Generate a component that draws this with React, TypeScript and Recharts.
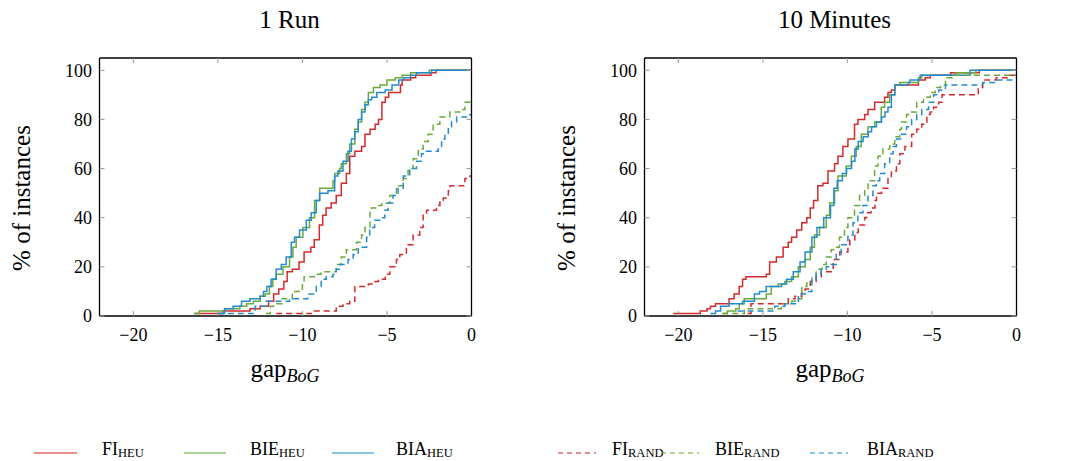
import { LineChart, Line, XAxis, YAxis } from "recharts";

// x ticks / y ticks shared by both panels
const xTicks = [-20, -15, -10, -5, 0];
const yTicks = [0, 20, 40, 60, 80, 100];

// ---- 1 Run ----  [gap, % of instances]
const runFiHeu = [[-16.4,1],[-14.7,2],[-13.1,3],[-12.5,4],[-12.0,6],[-11.7,9],[-11.4,11],[-11.1,14],[-10.9,18],[-10.6,19],[-10.2,22],[-9.9,26],[-9.5,28],[-9.3,31],[-9.0,37],[-8.8,41],[-8.6,44],[-8.3,46],[-8.0,49],[-7.7,54],[-7.4,58],[-7.2,65],[-6.9,67],[-6.5,69],[-6.3,74],[-6.0,76],[-5.7,78],[-5.5,80],[-5.3,87],[-5.1,89],[-4.9,91],[-4.2,94],[-4.1,96],[-3.6,97],[-3.3,98],[-2.4,99],[-2.1,100],[0,100]];
const runBieHeu = [[-16.4,1],[-16.1,2],[-14.6,3],[-13.7,4],[-13.3,5],[-12.9,6],[-12.5,8],[-12.2,9],[-11.95,12],[-11.75,15],[-11.55,17],[-11.15,20],[-10.76,24],[-10.56,28],[-10.37,32],[-9.97,36],[-9.58,40],[-9.28,47],[-8.98,52],[-8.19,55],[-8.09,58],[-7.8,60],[-7.7,62],[-7.4,66],[-7.2,70],[-6.9,76],[-6.7,79],[-6.5,84],[-6.3,87],[-6.1,91],[-5.8,93],[-5.4,94],[-5.0,96],[-4.5,97],[-4.1,98],[-3.6,99],[-2.5,100],[0,100]];
const runBiaHeu = [[-15.0,1],[-14.6,3],[-14.1,4],[-13.6,6],[-13.1,7],[-12.5,8],[-12.3,10],[-12.1,12],[-11.85,15],[-11.55,19],[-11.25,21],[-10.96,24],[-10.66,30],[-10.47,32],[-10.17,35],[-9.77,39],[-9.48,42],[-9.18,47],[-8.98,50],[-8.49,51],[-8.09,57],[-7.9,59],[-7.6,63],[-7.3,67],[-7.1,72],[-6.9,75],[-6.7,80],[-6.5,83],[-6.3,86],[-6.1,88],[-5.9,89],[-5.6,91],[-5.1,92],[-4.7,94],[-4.3,96],[-4.0,97],[-3.6,98],[-3.25,99],[-2.36,100],[0,100]];
const runFiRand = [[-11.55,1],[-9.4,2],[-8.0,4],[-7.6,5],[-7.2,6],[-6.9,12],[-6.1,13],[-5.7,14],[-5.5,15],[-5.1,17],[-4.83,20],[-4.44,23],[-4.24,25],[-3.85,29],[-3.45,33],[-3.06,36],[-2.86,41],[-2.66,43],[-2.07,45],[-1.87,47],[-1.67,48],[-1.37,51],[-1.27,53],[-0.39,56],[-0.09,57],[0,57]];
const runBieRand = [[-12.15,1],[-11.9,4],[-11.7,5],[-11.2,7],[-10.6,10],[-10.2,11],[-10.0,14],[-9.9,16],[-9.3,17],[-8.9,18],[-8.0,21],[-7.7,24],[-7.4,27],[-6.8,30],[-6.5,33],[-6.3,36],[-6.0,44],[-5.6,45],[-5.3,46],[-4.83,49],[-4.44,53],[-4.04,56],[-3.75,60],[-3.45,64],[-3.15,68],[-2.86,71],[-2.56,74],[-2.27,78],[-1.87,81],[-1.28,83],[-0.6,84],[-0.39,87],[-0.09,88],[0,88]];
const runBiaRand = [[-15.0,1],[-12.8,4],[-12.15,6],[-10.76,7],[-9.68,9],[-9.18,12],[-8.89,15],[-8.59,16],[-8.19,17],[-8.0,19],[-7.8,21],[-7.3,23],[-7.0,25],[-6.7,28],[-6.2,32],[-6.02,36],[-5.73,39],[-5.33,40],[-5.13,43],[-4.93,46],[-4.64,49],[-4.34,52],[-4.04,57],[-3.65,60],[-3.25,63],[-2.96,66],[-2.76,67],[-1.97,68],[-1.77,72],[-1.57,74],[-1.37,77],[-1.18,79],[-0.88,81],[-0.09,82],[0,82]];

// ---- 10 Minutes ----
const minFiHeu = [[-20.3,1],[-18.7,2],[-18.3,3],[-18.1,4],[-17.8,5],[-17.0,7],[-16.7,9],[-16.4,12],[-16.2,15],[-16.0,16],[-14.8,17],[-14.6,22],[-14.2,24],[-13.8,28],[-13.5,30],[-13.3,32],[-13.0,35],[-12.7,38],[-12.4,40],[-12.2,44],[-12.0,47],[-11.75,53],[-11.45,54],[-11.15,59],[-10.76,62],[-10.56,65],[-10.27,69],[-9.97,72],[-9.58,78],[-9.38,80],[-8.98,82],[-8.78,84],[-8.39,87],[-7.8,89],[-7.6,91],[-7.4,92],[-7.2,94],[-5.8,96],[-5.4,97],[-5.1,98],[-3.9,99],[-2.2,100],[0,100]];
const minBieHeu = [[-17.4,1],[-17.1,2],[-16.6,3],[-16.4,5],[-16.1,7],[-14.8,9],[-14.5,12],[-14.1,13],[-13.7,14],[-13.3,16],[-12.9,20],[-12.5,23],[-12.2,28],[-11.95,33],[-11.65,36],[-11.25,41],[-11.05,46],[-10.76,51],[-10.56,57],[-10.07,61],[-9.77,65],[-9.48,69],[-9.18,74],[-8.78,77],[-8.39,79],[-8.0,85],[-7.8,87],[-7.5,90],[-7.2,94],[-6.9,95],[-5.8,97],[-5.6,98],[-3.6,99],[-2.4,100],[0,100]];
const minBiaHeu = [[-18.1,1],[-17.8,2],[-17.5,4],[-17.0,5],[-16.2,6],[-15.5,9],[-15.2,10],[-14.8,12],[-13.9,13],[-13.6,15],[-13.2,18],[-12.8,22],[-12.5,26],[-12.1,32],[-11.8,36],[-11.4,40],[-11.0,45],[-10.8,52],[-10.6,55],[-10.3,58],[-10.05,60],[-9.75,63],[-9.56,68],[-9.36,71],[-9.07,73],[-8.77,75],[-8.57,77],[-8.28,79],[-7.98,81],[-7.78,83],[-7.6,85],[-7.4,90],[-7.2,94],[-6.4,95],[-6.3,96],[-5.7,98],[-2.75,100],[0,100]];
const minFiRand = [[-15.9,1],[-15.7,5],[-13.5,7],[-13.1,8],[-12.7,10],[-12.5,11],[-12.2,14],[-11.85,16],[-11.55,18],[-10.84,23],[-10.45,26],[-9.97,29],[-9.86,31],[-9.56,34],[-9.36,37],[-8.98,40],[-8.87,42],[-8.6,44],[-8.37,47],[-8.28,50],[-7.98,52],[-7.6,56],[-7.4,59],[-7.1,62],[-6.9,66],[-6.6,69],[-6.2,74],[-5.9,76],[-5.6,78],[-5.3,82],[-5.1,83],[-4.9,85],[-4.6,87],[-4.4,90],[-2.26,93],[-2.0,96],[-1.2,97],[-0.4,98],[0,98]];
const minBieRand = [[-17.4,1],[-16.1,3],[-13.9,5],[-13.3,6],[-13.1,7],[-12.7,12],[-12.4,14],[-12.1,16],[-11.85,19],[-11.5,21],[-11.25,24],[-10.96,27],[-10.7,28],[-10.47,32],[-10.17,36],[-9.97,40],[-9.58,45],[-9.28,49],[-8.98,51],[-8.78,55],[-8.39,61],[-8.19,65],[-7.9,68],[-7.5,70],[-7.2,73],[-6.9,76],[-6.8,79],[-6.5,82],[-6.3,83],[-5.9,87],[-5.5,89],[-5.1,91],[-4.8,93],[-4.5,94],[-4.2,97],[-3.8,98],[0,98]];
const minBiaRand = [[-16.5,2],[-14.3,4],[-13.7,5],[-12.9,9],[-12.5,10],[-12.1,15],[-11.85,17],[-11.55,19],[-11.25,20],[-10.96,21],[-10.66,25],[-10.37,29],[-9.97,33],[-9.67,38],[-9.38,42],[-9.08,45],[-8.78,49],[-8.49,53],[-8.29,55],[-8.09,58],[-7.8,62],[-7.5,66],[-7.3,69],[-7.1,72],[-6.8,74],[-6.5,77],[-6.2,80],[-5.9,82],[-5.6,84],[-5.2,87],[-4.9,90],[-4.6,92],[-4.2,94],[-2.0,95],[-1.3,96],[0,96]];

const RED = "#d42a2c";
const GREEN = "#6aa93a";
const BLUE = "#238bd0";
const FONT = "'Liberation Serif', 'DejaVu Serif', serif";

const legendItems = [
  { name: "FI", sub: "HEU", color: RED, dash: undefined, x1: 34, x2: 77, tx: 102 },
  { name: "BIE", sub: "HEU", color: GREEN, dash: undefined, x1: 184, x2: 226, tx: 250 },
  { name: "BIA", sub: "HEU", color: BLUE, dash: undefined, x1: 332, x2: 374, tx: 396 },
  { name: "FI", sub: "RAND", color: RED, dash: "5 4", x1: 558, x2: 596, tx: 612 },
  { name: "BIE", sub: "RAND", color: GREEN, dash: "5 4", x1: 661, x2: 699, tx: 715 },
  { name: "BIA", sub: "RAND", color: BLUE, dash: "5 4", x1: 810, x2: 848, tx: 867 },
];

const fmtX = (v: number) => (v < 0 ? `\u2212${-v}` : `${v}`);
const toPts = (a: number[][]) => a.map(([x, y]) => ({ x, y }));
const tickStyle = { fill: "#000", fontSize: 18, fontFamily: FONT };
const frame = { stroke: "#000", strokeWidth: 1.3 };
const inTick = { stroke: "#999" };

const Panel = ({ left, title, series }: { left: number; title: string; series: number[][][] }) => (
  <div style={{ position: "absolute", left, top: 0, width: 480, height: 400 }}>
    <div style={{ position: "absolute", left: 0, width: 480, top: 6, textAlign: "center", paddingLeft: 99, boxSizing: "border-box", fontSize: 25, fontFamily: FONT }}>
      {title}
    </div>
    <div style={{ position: "absolute", left: 22, top: 198, width: 0, height: 0 }}>
      <div style={{ position: "absolute", transform: "translate(-50%,-50%) rotate(-90deg)", whiteSpace: "nowrap", fontSize: 25, fontFamily: FONT }}>
        % of instances
      </div>
    </div>
    <div style={{ position: "absolute", left: 99, width: 372, top: 355, textAlign: "center", fontSize: 25, fontFamily: FONT }}>
      gap<sub style={{ fontStyle: "italic", fontSize: 18, verticalAlign: "-5px" }}>BoG</sub>
    </div>
    <LineChart width={480} height={360} margin={{ top: 57, right: 7.5, bottom: 0, left: 39.5 }} style={{ position: "absolute", left: 0, top: 0 }}>
      <XAxis xAxisId="b" dataKey="x" type="number" domain={[-22, 0]} ticks={xTicks} interval={0} allowDataOverflow
        tickFormatter={fmtX} tickSize={-5} tickMargin={17} height={44} tick={tickStyle}
        axisLine={frame} tickLine={inTick} />
      <XAxis xAxisId="t" orientation="top" dataKey="x" type="number" domain={[-22, 0]} ticks={xTicks} interval={0} allowDataOverflow
        tickFormatter={() => ""} tickSize={-5} height={1}
        axisLine={frame} tickLine={inTick} />
      <YAxis yAxisId="l" type="number" domain={[0, 105]} ticks={yTicks} interval={0} allowDataOverflow
        tickSize={-5} tickMargin={12.5} width={60} tick={tickStyle}
        axisLine={frame} tickLine={inTick} />
      <YAxis yAxisId="r" orientation="right" type="number" domain={[0, 105]} ticks={yTicks} interval={0} allowDataOverflow
        tickFormatter={() => ""} tickSize={-5} width={1}
        axisLine={frame} tickLine={inTick} />
      {series.map((arr, i) => (
        <Line key={i} xAxisId="b" yAxisId="l" data={toPts(arr)} dataKey="y" type="stepAfter"
          stroke={[RED, GREEN, BLUE][i % 3]} strokeWidth={1.5} strokeDasharray={i >= 3 ? "6 4" : undefined}
          dot={false} activeDot={false} isAnimationActive={false} />
      ))}
    </LineChart>
  </div>
);

export default function App() {
  return (
    <div style={{ position: "absolute", left: 0, top: 0, width: 1088, height: 461, background: "#fff", fontFamily: FONT }}>
      <Panel left={0} title="1 Run" series={[runFiHeu, runBieHeu, runBiaHeu, runFiRand, runBieRand, runBiaRand]} />
      <Panel left={545} title="10 Minutes" series={[minFiHeu, minBieHeu, minBiaHeu, minFiRand, minBieRand, minBiaRand]} />
      <svg width={1088} height={24} style={{ position: "absolute", left: 0, top: 436 }}>
        {legendItems.map((it, i) => (
          <g key={i}>
            <line x1={it.x1} x2={it.x2} y1={17} y2={17} stroke={it.color} strokeWidth={1.5} strokeOpacity={0.7} strokeDasharray={it.dash} />
            <text x={it.tx} y={19} fontSize={18} fontFamily={FONT} fill="#000">
              {it.name}
              <tspan fontSize={12.5} dy={2}>{it.sub}</tspan>
            </text>
          </g>
        ))}
      </svg>
    </div>
  );
}
